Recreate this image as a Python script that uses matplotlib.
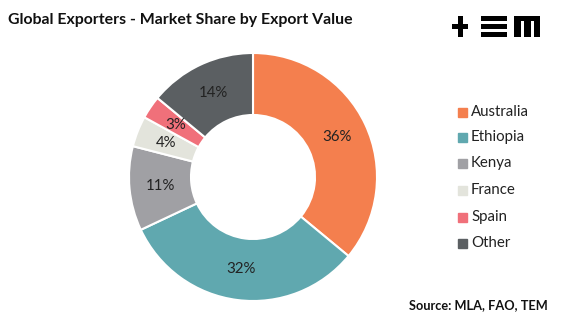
import matplotlib
matplotlib.use("Agg")
import matplotlib.pyplot as plt
from matplotlib.patches import Rectangle

plt.rcParams['font.family'] = ['Lato', 'DejaVu Sans']

# data
countries = ['Australia', 'Ethiopia', 'Kenya', 'France', 'Spain', 'Other']
shares = [36, 32, 11, 4, 3, 14]
colors = ['#F47F4E', '#60A8AF', '#A0A0A4', '#E3E4DC', '#F0707A', '#5B5F62']

W, H = 563, 323
fig = plt.figure(figsize=(W / 100, H / 100), dpi=100)

# donut axes: centre (253,177) px, radius 124 px
cx, cy, r = 253, 177, 124
ax = fig.add_axes([(cx - r) / W, (H - cy - r) / H, 2 * r / W, 2 * r / H])
wedges, texts, autotexts = ax.pie(
    shares, colors=colors, startangle=90, counterclock=False,
    autopct='%d%%', pctdistance=0.75, radius=1,
    wedgeprops=dict(width=0.5, edgecolor='white', linewidth=1.5),
    textprops=dict(fontsize=10.8, color='#222222'))
ax.set_xlim(-1, 1)
ax.set_ylim(-1, 1)
ax.set_aspect('equal')
ax.axis('off')

fig.text(8 / W, 1 - 20 / H, 'Global Exporters - Market Share by Export Value',
         fontsize=11.4, fontweight='bold', va='center', ha='left', color='#111111')
fig.text(548 / W, 1 - 305 / H, 'Source: MLA, FAO, TEM', fontsize=9.2,
         fontweight='bold', ha='right', va='center', color='#111111')

# legend
leg_y = [112, 137, 163, 190, 217, 243]
for name, col, y in zip(countries, colors, leg_y):
    fig.patches.append(Rectangle((458 / W, 1 - (y + 5) / H), 9 / W, 9 / H,
                                 transform=fig.transFigure, color=col))
    fig.text(471 / W, 1 - y / H, name, fontsize=10.8, va='center', ha='left',
             color='#222222')

# logo
def box(x0, y0, x1, y1):
    fig.patches.append(Rectangle((x0 / W, 1 - y1 / H), (x1 - x0) / W, (y1 - y0) / H,
                                 transform=fig.transFigure, color='black', lw=0))

top, bot = 16, 37
box(452, 23.5, 468, 29)
box(457.5, top, 462.5, bot)
box(481, top, 507, top + 4.5)
box(481, 24, 507, 28.5)
box(481, bot - 4.5, 507, bot)
box(514, top, 540, top + 5)
box(514, top, 521, bot)
box(524, top, 530.5, bot)
box(533.5, top, 540, bot)

fig.savefig('out.png', dpi=100, facecolor='white')
